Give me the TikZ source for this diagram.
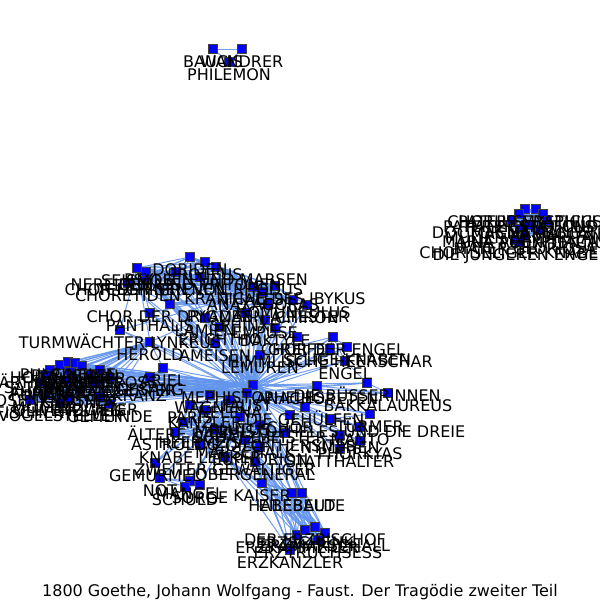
\documentclass[tikz,border=0pt]{standalone}
\usepackage{fontspec}
\setmainfont{DejaVu Sans}
\pgfdeclarelayer{background}
\pgfdeclarelayer{foreground}
\pgfsetlayers{background,main,foreground}
\definecolor{edgecol}{RGB}{100,149,237}
\definecolor{nodecol}{RGB}{0,0,255}
\tikzset{
  sq/.style={rectangle, fill=nodecol, draw=black!75, line width=0.6pt, minimum size=9pt, inner sep=0pt},
  lab/.style={inner sep=0pt, font=\fontsize{16}{17}\selectfont, text height=11.7pt, text depth=0pt, anchor=center},
  ed/.style={draw=edgecol, line width=1pt, opacity=0.9},
}
\newcommand\Nd[4]{\node[sq] (#1) at (#2,#3) {};
  \begin{pgfonlayer}{foreground}\node[lab] (#1l) at (#2,#3+13) {#4};\end{pgfonlayer}}
\begin{document}
\begin{tikzpicture}[x=1pt,y=-1pt]
\useasboundingbox (0,0) rectangle (600,600);
\begin{pgfonlayer}{background}
\fill[white] (0,0) rectangle (600,600);
\end{pgfonlayer}
% small cluster
\Nd{a1}{213}{49}{BAUCIS}
\Nd{a2}{242}{49}{WANDRER}
\Nd{a3}{229}{62}{PHILEMON}
% right cluster
\Nd{r1}{525}{209}{CHORUS MYSTICUS}
\Nd{r2}{536}{209}{PATER SERAPHICUS}
\Nd{r3}{519}{214}{PATER ECSTATICUS}
\Nd{r4}{543}{214}{PATER PROFUNDUS}
\Nd{r5}{512}{220}{DOCTOR MARIANUS}
\Nd{r6}{547}{221}{MAGNA PECCATRIX}
\Nd{r7}{530}{225}{MULIER SAMARITANA}
\Nd{r8}{520}{229}{MARIA AEGYPTIACA}
\Nd{r9}{540}{230}{UNA POENITENTIUM}
\Nd{r10}{525}{236}{MATER GLORIOSA}
\Nd{r11}{515}{240}{CHOR SELIGER KNABEN}
\Nd{r12}{520}{242}{DIE JÜNGEREN ENGEL}
% hubs
\Nd{h1}{253}{385}{MEPHISTOPHELES}
\Nd{h2}{247}{393}{FAUST}
% top cluster
\Nd{t1}{190}{257}{DORIDEN}
\Nd{t2}{205}{262}{PROTEUS}
\Nd{t3}{216}{267}{PSYLLEN UND MARSEN}
\Nd{t4}{176}{272}{NEREIDEN UND TRITONEN}
\Nd{t5}{137}{268}{SEISMOS}
\Nd{t6}{145}{277}{CHOR DER SIRENEN}
\Nd{t7}{200}{277}{TELCHINEN VON RHODUS}
\Nd{t8}{128}{283}{CHORETIDEN}
\Nd{t9}{275}{286}{KRANICHE DES IBYKUS}
\Nd{t10}{253}{287}{THALES}
\Nd{t11}{263}{292}{ANAXAGORAS}
\Nd{t12}{293}{300}{HOMUNCULUS}
\Nd{t13}{268}{304}{PYGMÄEN-ÄLTESTER}
\Nd{t14}{170}{304}{CHOR DER DRYADEN}
\Nd{t15}{150}{313}{PANTHALIS}
\Nd{t16}{245}{313}{SPHINXE}
\Nd{t17}{205}{318}{LAMIEN}
\Nd{t18}{265}{320}{EMPUSE}
\Nd{t19}{220}{327}{ERICHTHO}
\Nd{t20}{275}{328}{DAKTYLE}
\Nd{t21}{120}{330}{TURMWÄCHTER LYNKEUS}
\Nd{t22}{150}{342}{HEROLD}
\Nd{t23}{215}{343}{AMEISEN}
\Nd{t24}{307}{305}{CHIRON}
\Nd{t25}{297}{337}{GREIFE}
\Nd{t26}{146}{272}{OREAS}
\Nd{ar}{163}{368}{ARIEL}
\Nd{ge}{150}{377}{GESANG}
% right of hubs
\Nd{e1}{333}{337}{CHOR DER ENGEL}
\Nd{e2}{330}{349}{HIMMLISCHE HEERSCHAR}
\Nd{e3}{260}{355}{LEMUREN}
\Nd{e4}{345}{361}{ENGEL}
\Nd{e5}{367}{383}{DIE BÜSSERINNEN}
\Nd{e6}{388}{393}{BAKKALAUREUS}
\Nd{e7}{305}{407}{DIE GEHÜLFEN}
\Nd{e8}{370}{414}{TÜRMER}
\Nd{e9}{330}{419}{MEPHISTOPHELES UND DIE DREIE}
\Nd{e10}{360}{427}{MANTO}
\Nd{e11}{340}{435}{NYMPHEN}
\Nd{e12}{360}{441}{PHORKYAS}
\Nd{e13}{340}{449}{STATTHALTER}
\Nd{e14}{317}{386}{ANACHORETEN}
\Nd{e15}{347}{347}{SELIGE KNABEN}
% lower middle
\Nd{m1}{183}{422}{ÄLTERE DAME}
\Nd{m2}{175}{432}{ASTROLOG}
\Nd{m3}{205}{410}{KANZLER}
\Nd{m4}{215}{430}{HEERMEISTER}
\Nd{m5}{260}{425}{SCHATZMEISTER}
\Nd{m6}{245}{440}{MARSCHALK}
\Nd{m7}{200}{445}{KNABE LENKER}
\Nd{m8}{240}{417}{PLUTUS}
\Nd{m9}{285}{433}{ZOILO-THERSITES}
\Nd{m10}{230}{400}{HELENA}
\Nd{m11}{190}{405}{PARIS}
\Nd{m12}{260}{447}{EUPHORION}
\Nd{m13}{225}{457}{ZWEITER GEWALTIGER}
\Nd{m14}{155}{463}{GEMURMEL}
\Nd{m15}{255}{462}{OBERGENERAL}
\Nd{m16}{160}{478}{NOT}
\Nd{m17}{190}{481}{MANGEL}
\Nd{m18}{200}{485}{SORGE}
\Nd{m19}{185}{487}{SCHULD}
\Nd{m20}{262}{483}{KAISER}
\Nd{m21}{292}{493}{HABEBALD}
\Nd{m22}{302}{493}{EILEBEUTE}
\Nd{m23}{290}{415}{CHOR}
\Nd{m24}{210}{395}{WAGNER}
% bottom cluster
\Nd{b1}{315}{527}{DER ERZBISCHOF}
\Nd{b2}{325}{533}{ERZMARSCHALL}
\Nd{b3}{318}{540}{ERZTRUCHSESS}
\Nd{b4}{297}{535}{ERZKÄMMERER}
\Nd{b5}{290}{550}{ERZKANZLER}
\Nd{b6}{305}{530}{ERZSCHENK}
% left cluster
\Nd{l1}{50}{370}{GÄRTNERINNEN}
\Nd{l2}{60}{365}{HOLZHAUER}
\Nd{l3}{68}{362}{PULCINELLE}
\Nd{l4}{75}{363}{PARASITEN}
\Nd{l5}{82}{366}{TRUNKNER}
\Nd{l6}{45}{375}{SATIRIKER}
\Nd{l7}{70}{372}{GRAZIEN}
\Nd{l8}{90}{375}{PARZEN}
\Nd{l9}{40}{382}{FURIEN}
\Nd{l10}{65}{380}{ÄHRENKRANZ}
\Nd{l11}{95}{383}{PHANTASIEKRANZ}
\Nd{l12}{50}{388}{ROSENKNOSPEN}
\Nd{l13}{80}{390}{GÄRTNER}
\Nd{l14}{45}{395}{MUTTER}
\Nd{l15}{70}{398}{OLIVENZWEIG}
\Nd{l16}{100}{397}{TOCHTER}
\Nd{l17}{110}{404}{GEMEINDE}
\Nd{l18}{30}{400}{FISCHER}
\Nd{l19}{60}{403}{VOGELSTELLER}
\Nd{l20}{100}{370}{WEIBERTROSS}
\Nd{l21}{110}{378}{ABGEMAGERTER}
% title
\node[lab] (title) at (300,591) {1800 Goethe, Johann Wolfgang - Faust. Der Tragödie zweiter Teil};
% edges
\begin{pgfonlayer}{background}
\foreach \a/\b in {a1/a2,a1/a3,a2/a3,h1/h2} \draw[ed] (\a)--(\b);
\foreach \i in {1,...,11}{\pgfmathtruncatemacro\k{\i+1}\foreach \j in {\k,...,12}{\draw[ed] (r\i)--(r\j);}}
\foreach \i in {1,...,26}{\draw[ed] (t\i)--(h1); \draw[ed] (t\i)--(h2);}
\foreach \i in {1,...,13}{\pgfmathtruncatemacro\k{\i+1}\foreach \j in {\k,...,14}{\draw[ed] (t\i)--(t\j);}}
\foreach \i in {15,...,25}{\draw[ed] (t\i)--(t9); \draw[ed] (t\i)--(t5);}
\foreach \i in {1,...,15}{\draw[ed] (e\i)--(h1); \draw[ed] (e\i)--(h2);}
\foreach \a/\b in {e1/e2,e1/e4,e2/e4,e1/e15,e2/e15,e3/e1,e5/e6,e5/e14,e8/e9,e9/e10,e10/e12,e11/e13,e7/e9,e6/e14,e4/e5}
  \draw[ed] (\a)--(\b);
\foreach \i in {1,...,24}{\draw[ed] (m\i)--(h1); \draw[ed] (m\i)--(h2);}
\foreach \i in {1,...,12}{\pgfmathtruncatemacro\k{\i+1}\foreach \j in {\k,...,13}{\draw[ed] (m\i)--(m\j);}}
\foreach \a/\b in {m16/m17,m16/m18,m16/m19,m17/m18,m17/m19,m18/m19,m20/m21,m20/m22,m21/m22,m20/m15,m20/m13,m14/m3}
  \draw[ed] (\a)--(\b);
\foreach \i in {1,...,6}{\draw[ed] (b\i)--(h1); \draw[ed] (b\i)--(m20); \draw[ed] (b\i)--(m21);
  \draw[ed] (b\i)--(m22); \draw[ed] (b\i)--(m13); \draw[ed] (b\i)--(m15); \draw[ed] (b\i)--(m6);}
\foreach \i in {1,...,5}{\pgfmathtruncatemacro\k{\i+1}\foreach \j in {\k,...,6}{\draw[ed] (b\i)--(b\j);}}
\foreach \i in {1,...,21}{\draw[ed] (l\i)--(h1); \draw[ed] (l\i)--(h2); \draw[ed] (l\i)--(t22);}
\foreach \i in {1,...,20}{\pgfmathtruncatemacro\k{\i+1}\foreach \j in {\k,...,21}{\draw[ed] (l\i)--(l\j);}}
\foreach \a/\b in {ar/h2,ar/h1,ge/h2,ge/ar,ge/h1,ar/t22}
  \draw[ed] (\a)--(\b);
\end{pgfonlayer}
\end{tikzpicture}
\end{document}
